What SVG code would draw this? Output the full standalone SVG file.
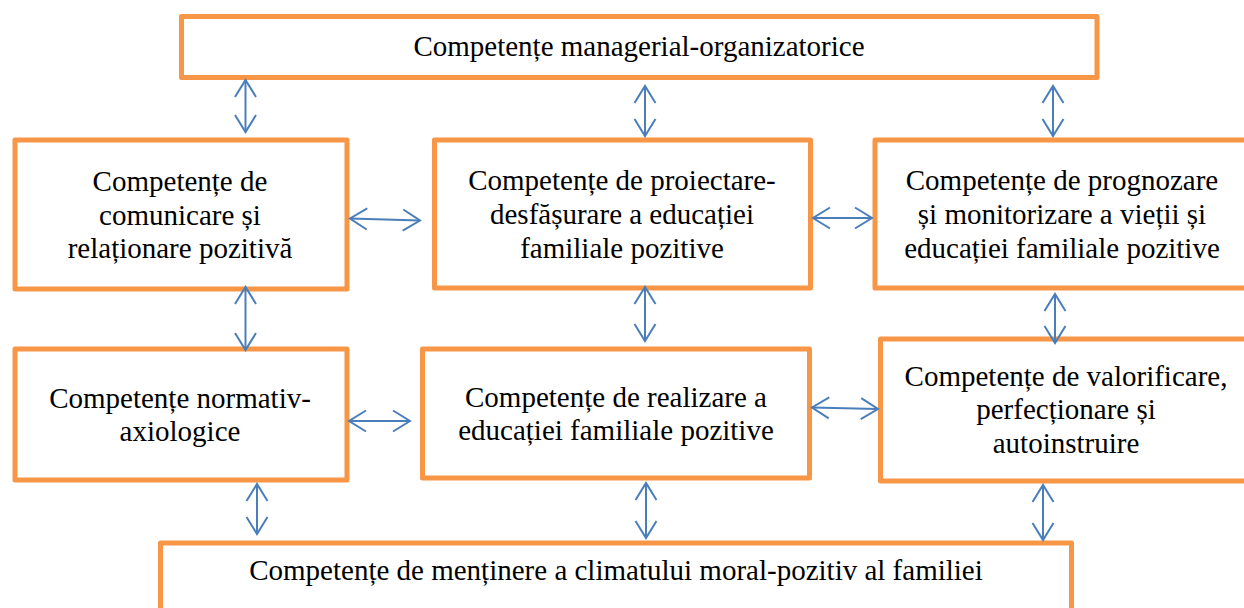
<svg xmlns="http://www.w3.org/2000/svg" width="1244" height="608" viewBox="0 0 1244 608">
  <style>
    .box { fill: #ffffff; stroke: #F79646; stroke-width: 5; stroke-linejoin: round; }
    .lbl { font-family: 'Liberation Serif', 'DejaVu Serif', serif; font-size: 29px; fill: #000000; text-anchor: middle; }
    .arr { stroke: #4A7EBB; stroke-width: 2; fill: none; marker-start: url(#head); marker-end: url(#head); }
  </style>
  <defs>
    <marker id="head" markerUnits="userSpaceOnUse" viewBox="0 0 20 24" markerWidth="20" markerHeight="24" refX="18" refY="12" orient="auto-start-reverse">
      <path d="M1,1.5 L18,12 L1,22.5" fill="none" stroke="#4A7EBB" stroke-width="2"/>
    </marker>
  </defs>
  <rect width="1244" height="608" fill="#ffffff"/>

  <g id="n-managerial">
    <rect class="box" x="181.5" y="16.5" width="915.5" height="61"/>
    <text class="lbl" x="639" y="56">Competențe managerial-organizatorice</text>
  </g>

  <g id="n-comunicare">
    <rect class="box" x="15" y="140" width="332" height="149"/>
    <text class="lbl" x="180" y="191">Competențe de</text>
    <text class="lbl" x="180" y="224.5">comunicare și</text>
    <text class="lbl" x="180" y="258">relaționare pozitivă</text>
  </g>

  <g id="n-proiectare">
    <rect class="box" x="434.5" y="140" width="376" height="148"/>
    <text class="lbl" x="622" y="190">Competențe de proiectare-</text>
    <text class="lbl" x="622" y="224">desfășurare a educației</text>
    <text class="lbl" x="622" y="258">familiale pozitive</text>
  </g>

  <g id="n-prognozare">
    <rect class="box" x="875" y="140" width="380" height="148"/>
    <text class="lbl" x="1062" y="190">Competențe de prognozare</text>
    <text class="lbl" x="1062" y="224">și monitorizare a vieții și</text>
    <text class="lbl" x="1062" y="258">educației familiale pozitive</text>
  </g>

  <g id="n-normativ">
    <rect class="box" x="15" y="349" width="332" height="131"/>
    <text class="lbl" x="180" y="408">Competențe normativ-</text>
    <text class="lbl" x="180" y="441">axiologice</text>
  </g>

  <g id="n-realizare">
    <rect class="box" x="422.5" y="349" width="387" height="129"/>
    <text class="lbl" x="616" y="407">Competențe de realizare a</text>
    <text class="lbl" x="616" y="440">educației familiale pozitive</text>
  </g>

  <g id="n-valorificare">
    <rect class="box" x="880.5" y="339" width="380" height="142"/>
    <text class="lbl" x="1066" y="386">Competențe de valorificare,</text>
    <text class="lbl" x="1066" y="419">perfecționare și</text>
    <text class="lbl" x="1066" y="453">autoinstruire</text>
  </g>

  <g id="n-climat">
    <rect class="box" x="160.5" y="543" width="911" height="80"/>
    <text class="lbl" x="616" y="580">Competențe de menținere a climatului moral-pozitiv al familiei</text>
  </g>

  <g id="connectors">
    <line class="arr" x1="245.5" y1="80" x2="245.5" y2="132"/>
    <line class="arr" x1="645" y1="86" x2="645" y2="136"/>
    <line class="arr" x1="1053" y1="86" x2="1053" y2="136"/>
    <line class="arr" x1="350" y1="218.5" x2="420" y2="220.5"/>
    <line class="arr" x1="813" y1="218" x2="872" y2="218"/>
    <line class="arr" x1="245.5" y1="287" x2="245.5" y2="350"/>
    <line class="arr" x1="645" y1="287" x2="645" y2="341"/>
    <line class="arr" x1="1055" y1="294" x2="1055" y2="343"/>
    <line class="arr" x1="349" y1="421" x2="410" y2="421"/>
    <line class="arr" x1="812" y1="407.5" x2="878" y2="409"/>
    <line class="arr" x1="257" y1="484" x2="257" y2="534"/>
    <line class="arr" x1="646" y1="483" x2="646" y2="538"/>
    <line class="arr" x1="1043" y1="485" x2="1043" y2="540"/>
  </g>
</svg>
